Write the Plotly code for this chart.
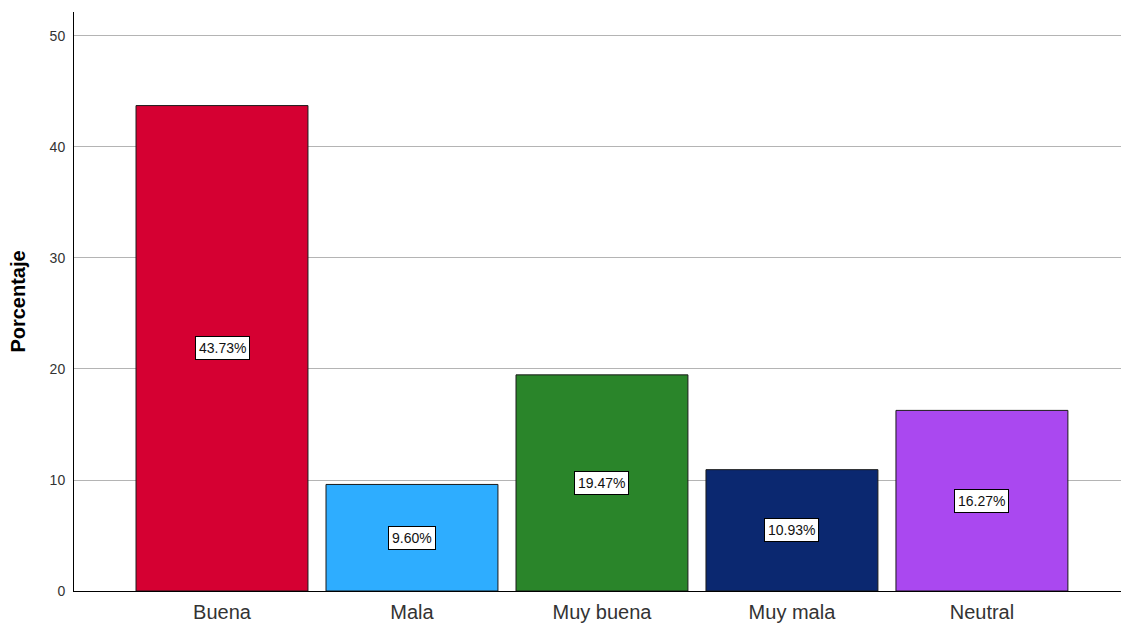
import plotly.graph_objects as go

categories = ["Buena", "Mala", "Muy buena", "Muy mala", "Neutral"]
values = [43.73, 9.60, 19.47, 10.93, 16.27]
colors = ["#D50032", "#2EADFF", "#2A852A", "#0B2870", "#AA48F0"]
y_ticks = [0, 10, 20, 30, 40, 50]

x_idx = list(range(len(categories)))

fig = go.Figure()
fig.add_trace(go.Bar(
    x=x_idx, y=values, width=0.905,
    marker=dict(color=colors, line=dict(color="#1a1a1a", width=1)),
    hoverinfo="skip",
))

for i, v in zip(x_idx, values):
    fig.add_annotation(
        x=i, y=v / 2, text=f"{v:.2f}%", showarrow=False,
        font=dict(family="Arial, Liberation Sans", size=14, color="#111111"),
        bgcolor="#ffffff", bordercolor="#000000", borderwidth=1, borderpad=3,
    )

fig.update_layout(
    width=1121, height=623,
    margin=dict(l=74, r=0, t=12, b=32),
    plot_bgcolor="#ffffff", paper_bgcolor="#ffffff",
    showlegend=False,
    font=dict(family="Arial, Liberation Sans", color="#000000"),
    xaxis=dict(
        range=[-0.779, 4.732], tickmode="array", tickvals=x_idx, ticktext=categories,
        showgrid=False, zeroline=False, showline=True, linecolor="#000000", linewidth=1,
        ticks="", ticklabelstandoff=3, tickfont=dict(size=20, color="#333333"),
    ),
    yaxis=dict(
        range=[0, 52.16], tickmode="array", tickvals=y_ticks,
        showgrid=True, gridcolor="#b4b4b4", gridwidth=1, zeroline=False,
        showline=True, linecolor="#000000", linewidth=1, ticks="",
        ticklabelstandoff=5,
        tickfont=dict(size=14, color="#333333"),
        title=dict(text="<b>Porcentaje</b>", font=dict(size=20, color="#000000"), standoff=18),
    ),
)

post = (
    "document.body.style.margin='0';"
    "document.body.style.overflow='hidden';"
    "var gd=document.getElementById('{plot_id}');"
    "Plotly.relayout(gd,{width:1121,height:623});"
)
fig.write_html("out.html", config={"responsive": False, "displayModeBar": False}, post_script=post)
